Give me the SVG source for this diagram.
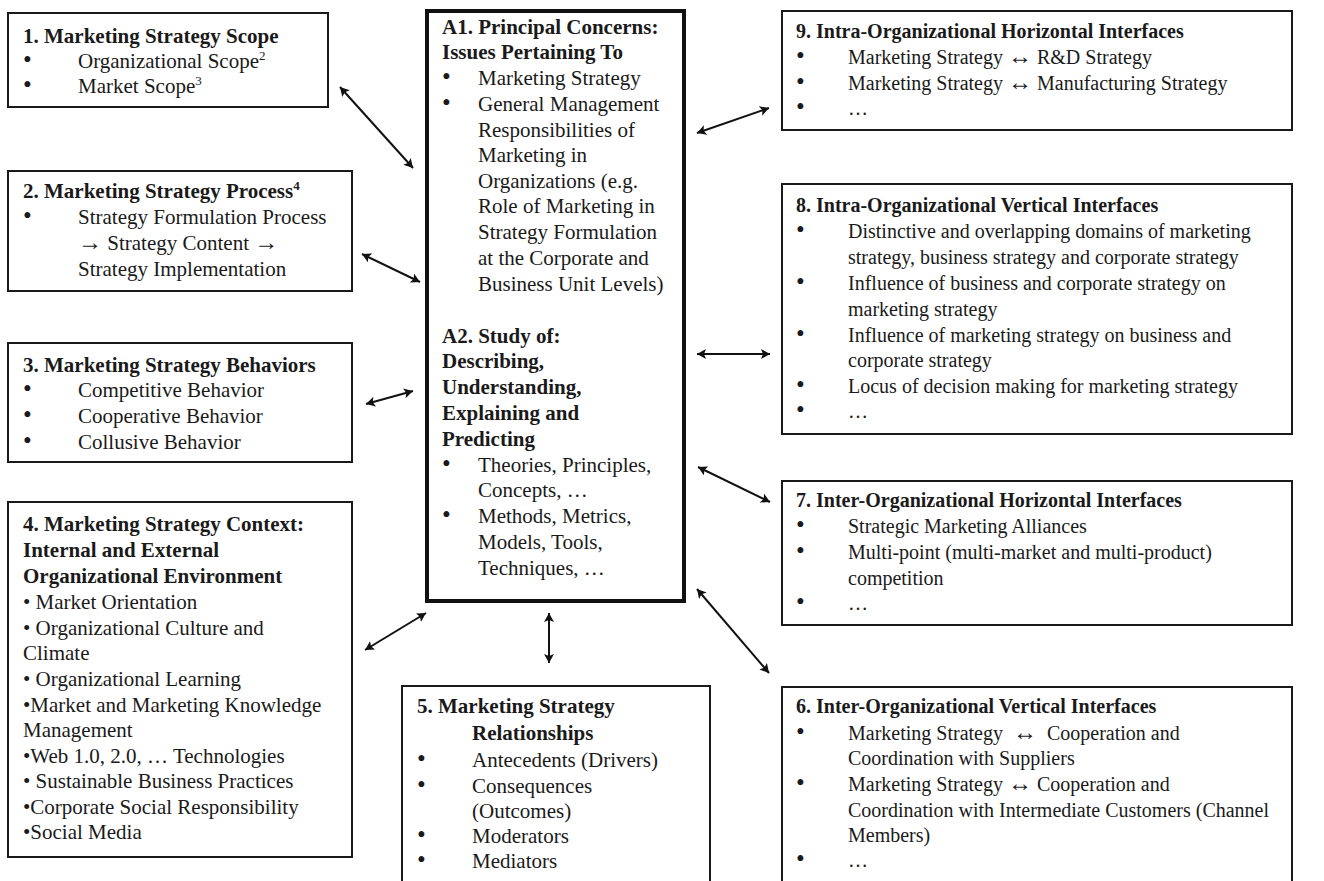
<svg xmlns="http://www.w3.org/2000/svg" width="1324" height="881" viewBox="0 0 1324 881">
<defs>
<style>
.box{fill:#fff;stroke:#1a1a1a;stroke-width:2}
.main{fill:#fff;stroke:#111;stroke-width:4}
text{font-family:"Liberation Serif","Times New Roman",serif;fill:#1a1a1a}
.l{font-size:21px}
.r{font-size:20px}
.b{font-weight:bold}
.bu{font-size:25px}
.ar{font-size:24px}
.conn{stroke:#111;stroke-width:2;fill:none;marker-start:url(#ah);marker-end:url(#ah)}
</style>
<marker id="ah" markerUnits="userSpaceOnUse" markerWidth="10" markerHeight="10" refX="9" refY="5" orient="auto-start-reverse">
<path d="M0,0 L9,5 L0,10 L2,5 Z" fill="#111"/>
</marker>
</defs>
<rect width="1324" height="881" fill="#fff"/>

<g id="node-1">
<rect class="box" x="8" y="13" width="320" height="94"/>
<text class="l b" x="23" y="43">1. Marketing Strategy Scope</text>
<text class="bu" x="23" y="68">•</text><text class="l" x="78" y="68">Organizational Scope<tspan font-size="13" dy="-8">2</tspan></text>
<text class="bu" x="23" y="93">•</text><text class="l" x="78" y="93">Market Scope<tspan font-size="13" dy="-8">3</tspan></text>
</g>

<g id="node-2">
<rect class="box" x="8" y="171" width="344" height="120"/>
<text class="l b" x="23" y="198">2. Marketing Strategy Process<tspan font-size="13" dy="-8">4</tspan></text>
<text class="bu" x="23" y="224">•</text><text class="l" x="78" y="224">Strategy Formulation Process</text>
<text class="l" x="78" y="250"><tspan class="ar">→</tspan> Strategy Content <tspan class="ar">→</tspan></text>
<text class="l" x="78" y="276">Strategy Implementation</text>
</g>

<g id="node-3">
<rect class="box" x="8" y="343" width="344" height="119"/>
<text class="l b" x="23" y="372">3. Marketing Strategy Behaviors</text>
<text class="bu" x="23" y="397">•</text><text class="l" x="78" y="397">Competitive Behavior</text>
<text class="bu" x="23" y="423">•</text><text class="l" x="78" y="423">Cooperative Behavior</text>
<text class="bu" x="23" y="449">•</text><text class="l" x="78" y="449">Collusive Behavior</text>
</g>

<g id="node-4">
<rect class="box" x="8" y="502" width="344" height="355"/>
<text class="l b" x="23" y="531">4. Marketing Strategy Context:</text>
<text class="l b" x="23" y="557">Internal and External</text>
<text class="l b" x="23" y="583">Organizational Environment</text>
<text class="l" x="23" y="609">• Market Orientation</text>
<text class="l" x="23" y="635">• Organizational Culture and</text>
<text class="l" x="23" y="660">Climate</text>
<text class="l" x="23" y="686">• Organizational Learning</text>
<text class="l" x="23" y="712">•Market and Marketing Knowledge</text>
<text class="l" x="23" y="737">Management</text>
<text class="l" x="23" y="763">•Web 1.0, 2.0, … Technologies</text>
<text class="l" x="23" y="788">• Sustainable Business Practices</text>
<text class="l" x="23" y="814">•Corporate Social Responsibility</text>
<text class="l" x="23" y="839">•Social Media</text>
</g>

<g id="node-A">
<rect class="main" x="427" y="11" width="257" height="590"/>
<text class="l b" x="442" y="34">A1. Principal Concerns:</text>
<text class="l b" x="442" y="59">Issues Pertaining To</text>
<text class="bu" x="442" y="85">•</text><text class="l" x="478" y="85">Marketing Strategy</text>
<text class="bu" x="442" y="111">•</text><text class="l" x="478" y="111">General Management</text>
<text class="l" x="478" y="137">Responsibilities of</text>
<text class="l" x="478" y="162">Marketing in</text>
<text class="l" x="478" y="188">Organizations (e.g.</text>
<text class="l" x="478" y="213">Role of Marketing in</text>
<text class="l" x="478" y="239">Strategy Formulation</text>
<text class="l" x="478" y="265">at the Corporate and</text>
<text class="l" x="478" y="291">Business Unit Levels)</text>
<text class="l b" x="442" y="343">A2. Study of:</text>
<text class="l b" x="442" y="368">Describing,</text>
<text class="l b" x="442" y="394">Understanding,</text>
<text class="l b" x="442" y="420">Explaining and</text>
<text class="l b" x="442" y="446">Predicting</text>
<text class="bu" x="442" y="472">•</text><text class="l" x="478" y="472">Theories, Principles,</text>
<text class="l" x="478" y="497">Concepts, …</text>
<text class="bu" x="442" y="523">•</text><text class="l" x="478" y="523">Methods, Metrics,</text>
<text class="l" x="478" y="549">Models, Tools,</text>
<text class="l" x="478" y="575">Techniques, …</text>
</g>

<g id="node-5">
<rect class="box" x="402" y="686" width="308" height="220"/>
<text class="l b" x="417" y="713">5. Marketing Strategy</text>
<text class="l b" x="472" y="740">Relationships</text>
<text class="bu" x="417" y="767">•</text><text class="l" x="472" y="767">Antecedents (Drivers)</text>
<text class="bu" x="417" y="793">•</text><text class="l" x="472" y="793">Consequences</text>
<text class="l" x="472" y="818">(Outcomes)</text>
<text class="bu" x="417" y="843">•</text><text class="l" x="472" y="843">Moderators</text>
<text class="bu" x="417" y="868">•</text><text class="l" x="472" y="868">Mediators</text>
</g>

<g id="node-9">
<rect class="box" x="782" y="11" width="510" height="119"/>
<text class="r b" x="796" y="38">9. Intra-Organizational Horizontal Interfaces</text>
<text class="bu" x="796" y="64">•</text><text class="r" x="848" y="64">Marketing Strategy <tspan class="ar">↔</tspan> R&amp;D Strategy</text>
<text class="bu" x="796" y="90">•</text><text class="r" x="848" y="90">Marketing Strategy <tspan class="ar">↔</tspan> Manufacturing Strategy</text>
<text class="bu" x="796" y="115">•</text><text class="r" x="848" y="115">…</text>
</g>

<g id="node-8">
<rect class="box" x="782" y="184" width="510" height="250"/>
<text class="r b" x="796" y="212">8. Intra-Organizational Vertical Interfaces</text>
<text class="bu" x="796" y="238">•</text><text class="r" x="848" y="238">Distinctive and overlapping domains of marketing</text>
<text class="r" x="848" y="264">strategy, business strategy and corporate strategy</text>
<text class="bu" x="796" y="290">•</text><text class="r" x="848" y="290">Influence of business and corporate strategy on</text>
<text class="r" x="848" y="316">marketing strategy</text>
<text class="bu" x="796" y="342">•</text><text class="r" x="848" y="342">Influence of marketing strategy on business and</text>
<text class="r" x="848" y="367">corporate strategy</text>
<text class="bu" x="796" y="393">•</text><text class="r" x="848" y="393">Locus of decision making for marketing strategy</text>
<text class="bu" x="796" y="418">•</text><text class="r" x="848" y="418">…</text>
</g>

<g id="node-7">
<rect class="box" x="782" y="481" width="510" height="144"/>
<text class="r b" x="796" y="507">7. Inter-Organizational Horizontal Interfaces</text>
<text class="bu" x="796" y="533">•</text><text class="r" x="848" y="533">Strategic Marketing Alliances</text>
<text class="bu" x="796" y="559">•</text><text class="r" x="848" y="559">Multi-point (multi-market and multi-product)</text>
<text class="r" x="848" y="585">competition</text>
<text class="bu" x="796" y="610">•</text><text class="r" x="848" y="610">…</text>
</g>

<g id="node-6">
<rect class="box" x="782" y="687" width="510" height="220"/>
<text class="r b" x="796" y="713">6. Inter-Organizational Vertical Interfaces</text>
<text class="bu" x="796" y="740">•</text><text class="r" x="848" y="740" xml:space="preserve">Marketing Strategy  <tspan class="ar">↔</tspan>  Cooperation and</text>
<text class="r" x="848" y="765">Coordination with Suppliers</text>
<text class="bu" x="796" y="791">•</text><text class="r" x="848" y="791">Marketing Strategy <tspan class="ar">↔</tspan> Cooperation and</text>
<text class="r" x="848" y="817">Coordination with Intermediate Customers (Channel</text>
<text class="r" x="848" y="842">Members)</text>
<text class="bu" x="796" y="867">•</text><text class="r" x="848" y="867">…</text>
</g>

<g id="connectors">
<line class="conn" x1="340" y1="87" x2="413" y2="168"/>
<line class="conn" x1="362" y1="254" x2="420" y2="282"/>
<line class="conn" x1="366" y1="404" x2="413" y2="391"/>
<line class="conn" x1="365" y1="650" x2="426" y2="613"/>
<line class="conn" x1="549" y1="613" x2="549" y2="663"/>
<line class="conn" x1="697" y1="133" x2="769" y2="108"/>
<line class="conn" x1="697" y1="354" x2="770" y2="354"/>
<line class="conn" x1="698" y1="467" x2="770" y2="502"/>
<line class="conn" x1="697" y1="589" x2="769" y2="673"/>
</g>
</svg>
